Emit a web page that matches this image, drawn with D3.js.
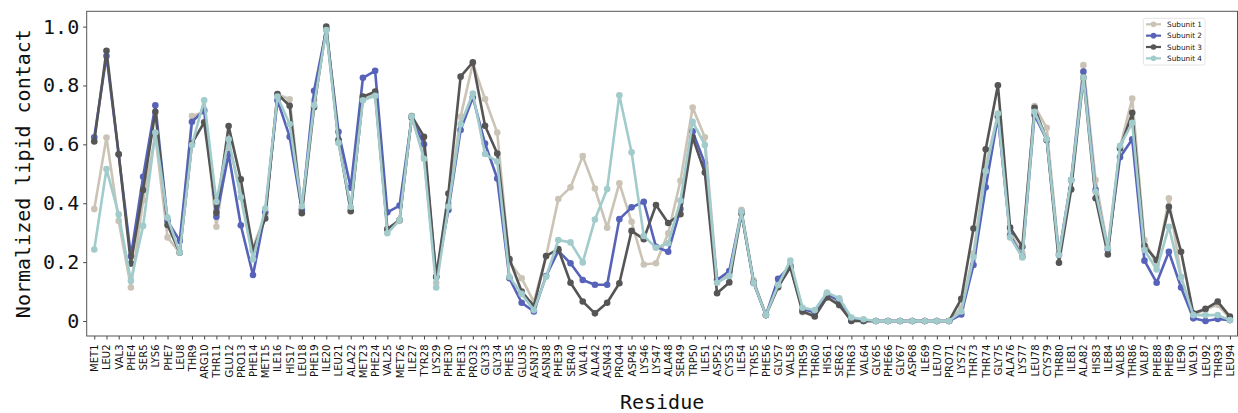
<!DOCTYPE html>
<html>
<head>
<meta charset="utf-8">
<script src="https://cdn.jsdelivr.net/npm/d3@7"></script>
<style>
  html, body { margin: 0; padding: 0; background: #fff; }
  svg { display: block; }
</style>
</head>
<body>
<svg id="chart" width="1238" height="413"></svg>
<script>
const residues = ["MET1","LEU2","VAL3","PHE4","SER5","LYS6","PHE7","LEU8","THR9","ARG10",
"THR11","GLU12","PRO13","PHE14","MET15","ILE16","HIS17","LEU18","PHE19","ILE20",
"LEU21","ALA22","MET23","PHE24","VAL25","MET26","ILE27","TYR28","LYS29","PHE30",
"PHE31","PRO32","GLY33","GLY34","PHE35","GLU36","ASN37","ASN38","PHE39","SER40",
"VAL41","ALA42","ASN43","PRO44","ASP45","LYS46","LYS47","ALA48","SER49","TRP50",
"ILE51","ASP52","CYS53","ILE54","TYR55","PHE56","GLY57","VAL58","THR59","THR60",
"HIS61","SER62","THR63","VAL64","GLY65","PHE66","GLY67","ASP68","ILE69","LEU70",
"PRO71","LYS72","THR73","THR74","GLY75","ALA76","LYS77","LEU78","CYS79","THR80",
"ILE81","ALA82","HIS83","ILE84","VAL85","THR86","VAL87","PHE88","PHE89","ILE90",
"VAL91","LEU92","THR93","LEU94"];

const subunit1 = [0.38,0.623,0.34,0.114,0.41,0.63,0.284,0.232,0.696,0.71,
0.32,0.60,0.44,0.25,0.36,0.77,0.753,0.38,0.75,0.99,
0.61,0.38,0.755,0.77,0.31,0.34,0.69,0.56,0.13,0.40,
0.694,0.875,0.754,0.64,0.20,0.145,0.065,0.22,0.414,0.454,
0.56,0.45,0.317,0.468,0.337,0.192,0.196,0.298,0.476,0.725,
0.624,0.14,0.16,0.378,0.138,0.02,0.12,0.19,0.03,0.02,
0.085,0.06,0.0,0.0,0.0,0.0,0.0,0.0,0.0,0.0,
0.0,0.045,0.23,0.53,0.70,0.30,0.23,0.73,0.656,0.23,
0.48,0.869,0.479,0.25,0.59,0.756,0.275,0.19,0.417,0.15,
0.02,0.04,0.055,0.01];

const subunit2 = [0.624,0.90,0.566,0.22,0.49,0.733,0.34,0.272,0.677,0.716,
0.354,0.567,0.325,0.156,0.369,0.75,0.626,0.377,0.782,0.99,
0.643,0.453,0.826,0.85,0.369,0.392,0.69,0.60,0.15,0.377,
0.649,0.76,0.603,0.484,0.145,0.062,0.032,0.153,0.238,0.196,
0.139,0.123,0.123,0.346,0.386,0.405,0.252,0.235,0.38,0.644,
0.535,0.139,0.17,0.37,0.13,0.02,0.143,0.187,0.04,0.03,
0.09,0.07,0.005,0.0,0.0,0.0,0.0,0.0,0.0,0.0,
0.0,0.022,0.19,0.454,0.694,0.29,0.218,0.70,0.615,0.224,
0.479,0.847,0.445,0.243,0.556,0.617,0.205,0.13,0.235,0.114,
0.009,0.0,0.007,0.003];

const subunit3 = [0.61,0.918,0.566,0.195,0.445,0.711,0.326,0.232,0.603,0.675,
0.368,0.662,0.481,0.24,0.348,0.771,0.731,0.366,0.726,1.0,
0.615,0.373,0.762,0.779,0.312,0.343,0.696,0.626,0.15,0.433,
0.83,0.879,0.663,0.569,0.21,0.10,0.051,0.221,0.244,0.13,
0.066,0.026,0.062,0.128,0.306,0.278,0.394,0.333,0.363,0.624,
0.504,0.094,0.131,0.365,0.13,0.02,0.115,0.182,0.032,0.015,
0.08,0.054,0.0,0.0,0.0,0.0,0.0,0.0,0.0,0.0,
0.0,0.075,0.314,0.583,0.801,0.317,0.252,0.724,0.615,0.198,
0.447,0.827,0.417,0.226,0.586,0.707,0.255,0.207,0.388,0.235,
0.026,0.041,0.066,0.015];

const subunit4 = [0.243,0.516,0.362,0.137,0.323,0.64,0.351,0.232,0.598,0.75,
0.405,0.617,0.42,0.21,0.382,0.762,0.669,0.39,0.733,0.988,
0.605,0.388,0.75,0.765,0.298,0.343,0.695,0.551,0.114,0.388,
0.668,0.773,0.567,0.542,0.15,0.092,0.037,0.15,0.275,0.267,
0.199,0.345,0.448,0.767,0.573,0.289,0.249,0.264,0.409,0.677,
0.598,0.13,0.153,0.371,0.13,0.02,0.122,0.205,0.045,0.037,
0.097,0.077,0.012,0.006,0.0,0.0,0.0,0.0,0.0,0.0,
0.0,0.032,0.217,0.509,0.705,0.284,0.216,0.711,0.617,0.224,
0.479,0.827,0.439,0.247,0.595,0.673,0.241,0.175,0.32,0.148,
0.02,0.02,0.02,0.003];

const seriesNames = ["Subunit 1","Subunit 2","Subunit 3","Subunit 4"];
const seriesValues = [subunit1, subunit2, subunit3, subunit4];
const seriesColors = ["#cbc4b6","#5663b9","#555555","#a2cbcb"];
const yTickValues = [0, 0.2, 0.4, 0.6, 0.8, 1.0];
const yTickLabels = ["0","0.2","0.4","0.6","0.8","1.0"];

(function () {
const svg = d3.select("#chart");
const pL = 86.7, pR = 1237.5, pT = 11.3, pB = 336;

const x = d3.scaleLinear().domain([-0.62, 93.62]).range([pL, pR]);
const y = d3.scaleLinear().domain([-0.051, 1.052]).range([pB, pT]);

// series
const line = d3.line().x((d, i) => x(i)).y(d => y(d));
const gSeries = svg.append("g");
seriesValues.forEach((vals, k) => {
  const g = gSeries.append("g");
  g.append("path").datum(vals)
    .attr("d", line)
    .attr("fill", "none")
    .attr("stroke", seriesColors[k])
    .attr("stroke-width", 2.6)
    .attr("stroke-linejoin", "round");
  g.selectAll("circle").data(vals).join("circle")
    .attr("cx", (d, i) => x(i))
    .attr("cy", d => y(d))
    .attr("r", 3.3)
    .attr("fill", seriesColors[k]);
});

// axes
const xAxis = d3.axisBottom(x)
  .tickValues(d3.range(residues.length))
  .tickFormat(i => residues[i])
  .tickSize(3.5).tickPadding(2);
const gx = svg.append("g").attr("transform", `translate(0,${pB})`).call(xAxis);
gx.select(".domain").remove();
gx.selectAll(".tick line").attr("stroke", "#444");
gx.selectAll(".tick text")
  .attr("font-family", "DejaVu Sans")
  .attr("font-size", 10)
  .attr("fill", "#111")
  .attr("transform", "rotate(-90)")
  .attr("text-anchor", "end")
  .attr("dy", null)
  .attr("dominant-baseline", "central")
  .attr("x", -8.5)
  .attr("y", 0);

const yAxis = d3.axisLeft(y)
  .tickValues(yTickValues)
  .tickFormat((d, i) => yTickLabels[i])
  .tickSize(3.5).tickPadding(4);
const gy = svg.append("g").attr("transform", `translate(${pL},0)`).call(yAxis);
gy.select(".domain").remove();
gy.selectAll(".tick line").attr("stroke", "#444");
gy.selectAll(".tick text")
  .attr("font-family", "DejaVu Sans Mono")
  .attr("font-size", 20)
  .attr("fill", "#111");

// frame
svg.append("rect")
  .attr("x", pL).attr("y", pT)
  .attr("width", pR - pL).attr("height", pB - pT)
  .attr("fill", "none").attr("stroke", "#555").attr("stroke-width", 1);

// axis titles
svg.append("text")
  .attr("transform", `translate(30,${(pT + pB) / 2}) rotate(-90)`)
  .attr("text-anchor", "middle")
  .attr("font-family", "DejaVu Sans Mono")
  .attr("font-size", 20)
  .attr("fill", "#111")
  .text("Normalized lipid contact");

svg.append("text")
  .attr("x", (pL + pR) / 2).attr("y", 409)
  .attr("text-anchor", "middle")
  .attr("font-family", "DejaVu Sans Mono")
  .attr("font-size", 20)
  .attr("fill", "#111")
  .text("Residue");

// legend
const lg = svg.append("g");
lg.append("rect")
  .attr("x", 1143.3).attr("y", 18.3)
  .attr("width", 61.7).attr("height", 46.7)
  .attr("rx", 2)
  .attr("fill", "#fff").attr("stroke", "#dddddd").attr("stroke-width", 0.8);
seriesNames.forEach((name, k) => {
  const yy = 24.3 + k * 11.35;
  lg.append("line")
    .attr("x1", 1146).attr("x2", 1161).attr("y1", yy).attr("y2", yy)
    .attr("stroke", seriesColors[k]).attr("stroke-width", 2.2);
  lg.append("circle").attr("cx", 1153.5).attr("cy", yy).attr("r", 2.8)
    .attr("fill", seriesColors[k]);
  lg.append("text")
    .attr("x", 1167).attr("y", yy)
    .attr("dominant-baseline", "central")
    .attr("font-family", "DejaVu Sans")
    .attr("font-size", 7.3)
    .attr("fill", "#222")
    .text(name);
});
})();
</script>
</body>
</html>
